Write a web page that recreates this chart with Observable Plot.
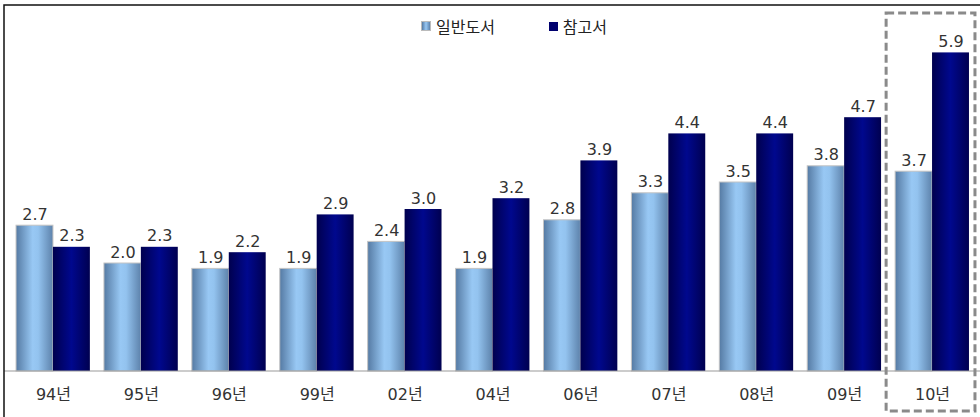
<!DOCTYPE html>
<html><head><meta charset="utf-8">
<script src="https://cdn.jsdelivr.net/npm/d3@7"></script>
<script src="https://cdn.jsdelivr.net/npm/@observablehq/plot@0.6"></script>
<style>
body{margin:0;background:#fff;}
#wrap{position:relative;width:980px;height:417px;overflow:hidden;font-family:"DejaVu Sans","Noto Sans CJK KR",sans-serif;}
#legend{position:absolute;top:14px;left:0;width:980px;display:flex;justify-content:center;align-items:center;font-size:16px;color:#222;font-family:"Noto Sans CJK KR","DejaVu Sans",sans-serif;padding-left:48px;box-sizing:border-box;}
#legend .item{display:flex;align-items:center;margin:0 27px;}
#legend .sw{width:9px;height:9px;margin-right:5px;}
#wrap svg{position:absolute;left:0;top:0;}
</style></head>
<body><div id="wrap"><div id="legend"></div></div>
<script>
const years = ["94년","95년","96년","99년","02년","04년","06년","07년","08년","09년","10년"];
const seriesNames = ["일반도서","참고서"];
const general = [2.7,2.0,1.9,1.9,2.4,1.9,2.8,3.3,3.5,3.8,3.7];
const reference = [2.3,2.3,2.2,2.9,3.0,3.2,3.9,4.4,4.4,4.7,5.9];
const highlightYear = "10년";

const data = [];
years.forEach((y,i)=>{
  data.push({year:y, series:seriesNames[0], value:general[i]});
  data.push({year:y, series:seriesNames[1], value:reference[i]});
});

const font = "'DejaVu Sans','Noto Sans CJK KR',sans-serif";
const chart = Plot.plot({
  width:980, height:417,
  marginLeft:9, marginRight:4, marginTop:20, marginBottom:46,
  fx:{domain:years, paddingInner:0.16, paddingOuter:0.08, round:false, label:null, axis:"bottom", tickSize:0, tickPadding:17},
  x:{domain:seriesNames, padding:0, round:false, axis:null},
  y:{domain:[0,6.5], axis:null},
  color:{domain:seriesNames, range:["url(#gGen)","url(#gRef)"]},
  style:{fontFamily:font, fontSize:"16px", color:"#333", background:"transparent"},
  marks:[
    Plot.barY(data,{fx:"year", x:"series", y:"value", fill:"series",
      stroke:d=>d.series===seriesNames[0]?"#c4c4c4":"none", strokeWidth:1, inset:0}),
    Plot.text(data,{fx:"year", x:"series", y:"value", text:d=>d.value.toFixed(1),
      lineAnchor:"bottom", dy:-6, fontSize:16, fill:"#333"})
  ]
});

const svg = d3.select(chart);
svg.selectAll("text").filter(function(){ return years.includes(this.textContent); })
  .attr("font-size",16).style("font-size","16px").attr("fill","#333").each(function(){
    if (this.parentNode && this.parentNode.tagName === "g") {
      this.parentNode.setAttribute("font-size","16");
      this.parentNode.style.fontSize = "16px";
    }
  });
const defs = svg.insert("defs",":first-child");
function grad(id, stops){
  const g = defs.append("linearGradient").attr("id",id).attr("x1",0).attr("x2",1).attr("y1",0).attr("y2",0);
  stops.forEach(([o,c])=>g.append("stop").attr("offset",o).attr("stop-color",c));
}
grad("gGen",[[0,"#557aa3"],[0.45,"#98c8f4"],[0.6,"#93c3ef"],[1,"#5d82ab"]]);
grad("gRef",[[0,"#00004e"],[0.5,"#00088e"],[1,"#000050"]]);

const ys = chart.scale("y"), fxs = chart.scale("fx");
const y0 = ys.apply(0);
svg.append("line").attr("x1",4).attr("x2",980).attr("y1",y0).attr("y2",y0)
  .attr("stroke","#9a9a9a").attr("stroke-width",1.2);
svg.append("path").attr("d","M4,417V5H980").attr("fill","none").attr("stroke","#111").attr("stroke-width",1.5);
const bx = fxs.apply(highlightYear), bw = fxs.bandwidth;
svg.append("rect").attr("x",bx-9).attr("y",13).attr("width",bw+15).attr("height",398)
  .attr("fill","none").attr("stroke","#8a8a8a").attr("stroke-width",3).attr("stroke-dasharray","8,4");

document.getElementById("wrap").appendChild(chart);

const legend = document.getElementById("legend");
const swFill = ["linear-gradient(to right,#557aa3,#98c8f4,#5d82ab)","#00006e"];
seriesNames.forEach((s,i)=>{
  const it = document.createElement("div"); it.className="item";
  const sw = document.createElement("div"); sw.className="sw"; sw.style.background=swFill[i];
  if(i===0) sw.style.border="1px solid #bbb", sw.style.width="8px", sw.style.height="8px";
  const t = document.createElement("span"); t.textContent=s;
  it.appendChild(sw); it.appendChild(t); legend.appendChild(it);
});
</script>
</body></html>
